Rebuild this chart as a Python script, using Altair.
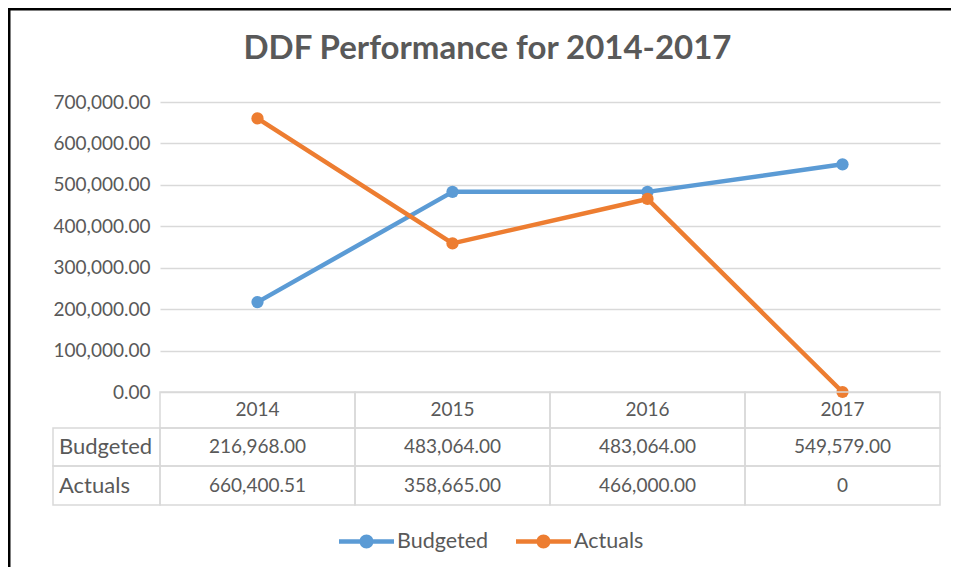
import altair as alt
import pandas as pd

# ---- data ----
years = ["2014", "2015", "2016", "2017"]
series = ["Budgeted", "Actuals"]
budgeted = [216968.00, 483064.00, 483064.00, 549579.00]
actuals = [660400.51, 358665.00, 466000.00, 0]
y_ticks = [0, 100000, 200000, 300000, 400000, 500000, 600000, 700000]
title_text = "DDF Performance for 2014-2017"
colors = ["#5b9bd5", "#ed7d31"]

rows = []
for s, vals in zip(series, [budgeted, actuals]):
    for yr, v in zip(years, vals):
        rows.append({"year": yr, "series": s, "value": v,
                     "label": f"{v:,.2f}" if v else "0"})
df = pd.DataFrame(rows)
years_df = pd.DataFrame({"year": years})
one = pd.DataFrame({"t": [title_text]})

FONT = "Lato"
GREY = "#595959"
GRID = "#d9d9d9"
W, H = 780, 290

xscale = alt.Scale(type="band", domain=years, paddingInner=0, paddingOuter=0)
X_band = alt.X("year:O", scale=xscale, axis=None)
X_mid = alt.X("year:O", scale=xscale, axis=None, bandPosition=0.5)

sym_path = ("M-1,-0.082L1,-0.082L1,0.082L-1,0.082Z "
            "M-0.255,0A0.255,0.255,0,1,1,0.255,0A0.255,0.255,0,1,1,-0.255,0Z")

legend = alt.Legend(
    orient="none", legendX=179, legendY=412, direction="horizontal", title=None,
    symbolType=sym_path, symbolSize=3025, symbolStrokeWidth=0,
    labelFont=FONT, labelFontSize=21.5, labelColor=GREY, labelOffset=3,
    columnPadding=27,
)

color = alt.Color("series:N", scale=alt.Scale(domain=series, range=colors), legend=legend)

yenc = alt.Y("value:Q",
             scale=alt.Scale(domain=[0, 700000], nice=False, zero=True),
             axis=alt.Axis(values=y_ticks, format=",.2f", title=None, domain=False,
                           ticks=False, labelPadding=10, labelFont=FONT,
                           labelFontSize=19, labelColor=GREY,
                           gridColor=GRID, gridWidth=1.5))

lines = alt.Chart(df).mark_line(
    strokeWidth=4.5, strokeCap="round", strokeJoin="round",
).encode(x=X_mid, y=yenc, color=color)

points = alt.Chart(df).mark_point(filled=True, size=150, opacity=1).encode(
    x=X_mid, y=yenc, color=color)

title = alt.Chart(one).mark_text(
    font=FONT, fontSize=33, fontWeight="bold", color=GREY
).encode(text="t:N", x=alt.value(327.5), y=alt.value(-53))

cell_style = dict(fill="white", fillOpacity=0, stroke=GRID, strokeWidth=1.5)
text_style = dict(font=FONT, fontSize=19, color=GREY)
rowlab_style = dict(font=FONT, fontSize=22, color=GREY)

header_cells = alt.Chart(years_df).mark_rect(**cell_style).encode(
    x=X_band, y=alt.value(290), y2=alt.value(326))
header_text = alt.Chart(years_df).mark_text(**text_style).encode(
    x=X_mid, y=alt.value(308), text="year:N")

layers = [lines, points, header_cells, header_text]
row_pos = {"Budgeted": (326, 364), "Actuals": (364, 403)}
for s in series:
    top, bot = row_pos[s]
    base = alt.Chart(df).transform_filter(alt.datum.series == s)
    layers.append(base.mark_rect(**cell_style).encode(
        x=X_band, y=alt.value(top), y2=alt.value(bot)))
    layers.append(base.mark_text(**text_style).encode(
        x=X_mid, y=alt.value((top + bot) / 2), text="label:N"))
    lab = alt.Chart(pd.DataFrame({"series": [s]}))
    layers.append(lab.mark_rect(**cell_style).encode(
        x=alt.value(-107), x2=alt.value(0), y=alt.value(top), y2=alt.value(bot)))
    layers.append(lab.mark_text(align="left", **rowlab_style).encode(
        x=alt.value(-101), y=alt.value((top + bot) / 2), text="series:N"))

# outer frame (partial, as cropped in the reference)
frame_left = alt.Chart(one).mark_rule(color="black", strokeWidth=2.5).encode(
    x=alt.value(-150.75), y=alt.value(-94), y2=alt.value(470))
frame_top = alt.Chart(one).mark_rule(color="black", strokeWidth=2.5).encode(
    y=alt.value(-92.75), x=alt.value(-152), x2=alt.value(791))

layers += [title, frame_left, frame_top]

chart = alt.layer(*layers).properties(
    width=W, height=H,
    autosize=alt.AutoSizeParams(type="none"),
    padding={"left": 152, "top": 94, "right": 11, "bottom": 175},
    background="white",
).configure_view(stroke=None)

chart.save("out.html", embed_options={"renderer": "svg", "actions": False})
